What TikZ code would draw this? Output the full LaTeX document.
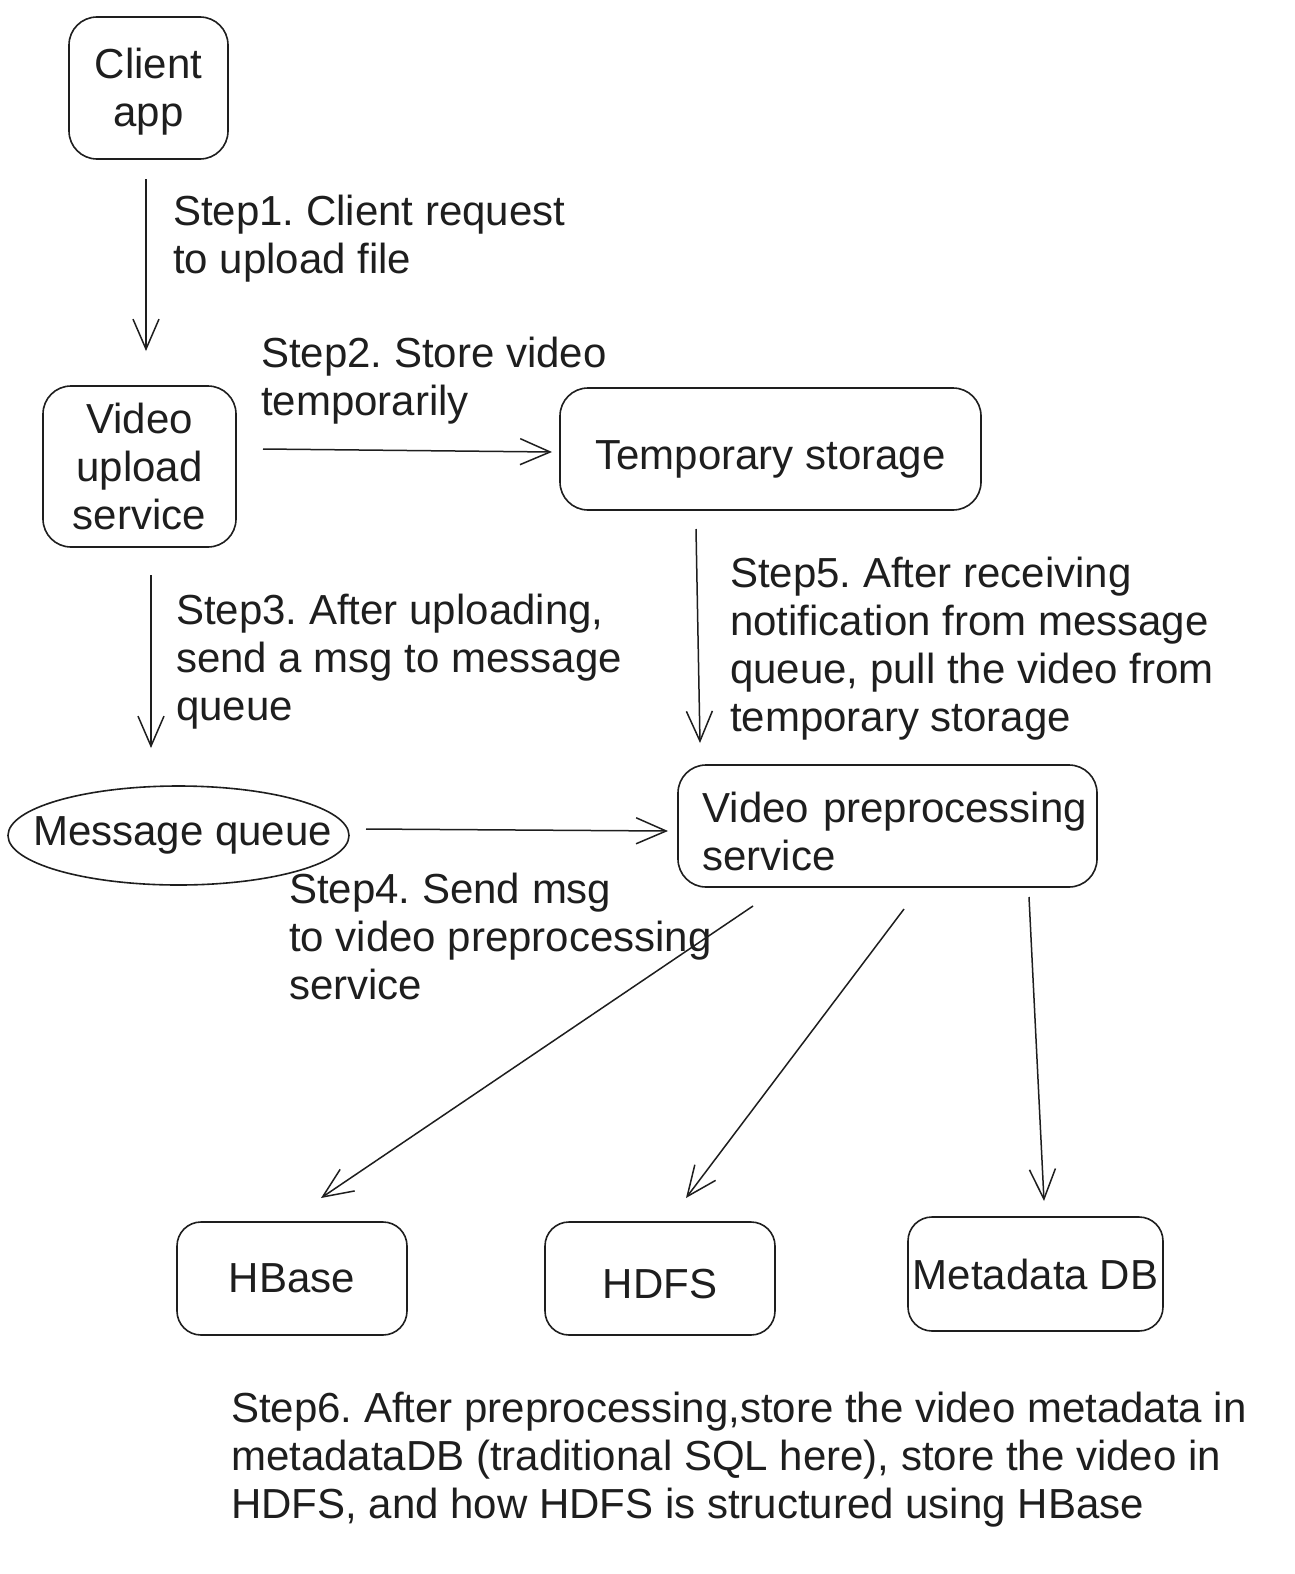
\documentclass[tikz,border=0pt]{standalone}
\usepackage{fontspec}
\setmainfont{Liberation Sans}
\usetikzlibrary{arrows.meta,shapes.geometric}
\definecolor{ink}{HTML}{1E1E1E}
\begin{document}
\begin{tikzpicture}[x=1pt,y=-1pt,
  every node/.style={font=\fontsize{42}{48}\selectfont\frenchspacing, text=ink},
  box/.style={draw=ink, line width=1.6pt, rounded corners=28pt, align=center, inner sep=0pt},
  lbl/.style={anchor=north west, align=left, inner sep=0pt},
  conn/.style={draw=ink, line width=1.5pt, -{Straight Barb[length=30pt,width=26pt,line width=1.5pt]}},
]
\useasboundingbox[fill=white] (0,0) rectangle (1295,1574);

% nodes
\node[box, minimum width=159pt, minimum height=142pt] (client) at (148.5,88) {\rule{0pt}{38pt}Client\\app};
\node[box, minimum width=193pt, minimum height=161pt] (upload) at (139.5,466.5) {Video\\upload\\service};
\node[box, minimum width=421pt, minimum height=122pt, text height=50pt, text depth=9pt] (temp) at (770.5,449) {Temporary storage};
\node[draw=ink, line width=1.6pt, ellipse, inner sep=0pt, minimum width=341pt, minimum height=99pt] (mq) at (178.5,835.5) {\makebox[0pt]{\hspace*{8pt}Message queue}};
\node[box, align=left, text width=400pt, minimum width=419pt, minimum height=122pt] (pre) at (887.5,826) {\hspace*{15pt}\rule{0pt}{42pt}Video preprocessing\\\hspace*{15pt}service};
\node[box, rounded corners=24pt, minimum width=230pt, minimum height=113pt] (hbase) at (292,1278.5) {HBase};
\node[box, rounded corners=24pt, minimum width=230pt, minimum height=113pt, text height=40pt, text depth=0pt] (hdfs) at (660,1278.5) {HDFS};
\node[box, rounded corners=24pt, minimum width=255pt, minimum height=114pt] (meta) at (1035.5,1274) {Metadata DB};

% labels
\node[lbl] (l1) at (173,195) {Step1. Client request\\to upload file};
\node[lbl] (l2) at (261,337) {Step2. Store video\\temporarily};
\node[lbl] (l3) at (176,594) {Step3. After uploading,\\send a msg to message\\queue};
\node[lbl] (l4) at (289,873) {Step4. Send msg\\to video preprocessing\\service};
\node[lbl] (l5) at (730,557) {Step5. After receiving\\notification from message\\queue, pull the video from\\temporary storage};
\node[lbl] (l6) at (231,1392) {Step6. After preprocessing,store the video metadata in\\metadataDB (traditional SQL here), store the video in\\HDFS, and how HDFS is structured using HBase};

% connector ends
\coordinate (a1s) at (146,179);  \coordinate (a1e) at (146,351);
\coordinate (a2s) at (263,449);  \coordinate (a2e) at (552,452);
\coordinate (a3s) at (151,575);  \coordinate (a3e) at (151,748);
\coordinate (a4s) at (366,829);  \coordinate (a4e) at (668,831);
\coordinate (a5s) at (696,529);  \coordinate (a5e) at (700,743);
\coordinate (a6s) at (753,906);  \coordinate (a6e) at (321,1198);
\coordinate (a7s) at (904,909);  \coordinate (a7e) at (686,1198);
\coordinate (a8s) at (1029,897); \coordinate (a8e) at (1044,1201);

\draw[conn] (a1s) -- (a1e);
\draw[conn] (a2s) -- (a2e);
\draw[conn] (a3s) -- (a3e);
\draw[conn] (a4s) -- (a4e);
\draw[conn] (a5s) -- (a5e);
\draw[conn] (a6s) -- (a6e);
\draw[conn] (a7s) -- (a7e);
\draw[conn] (a8s) -- (a8e);
\end{tikzpicture}
\end{document}
